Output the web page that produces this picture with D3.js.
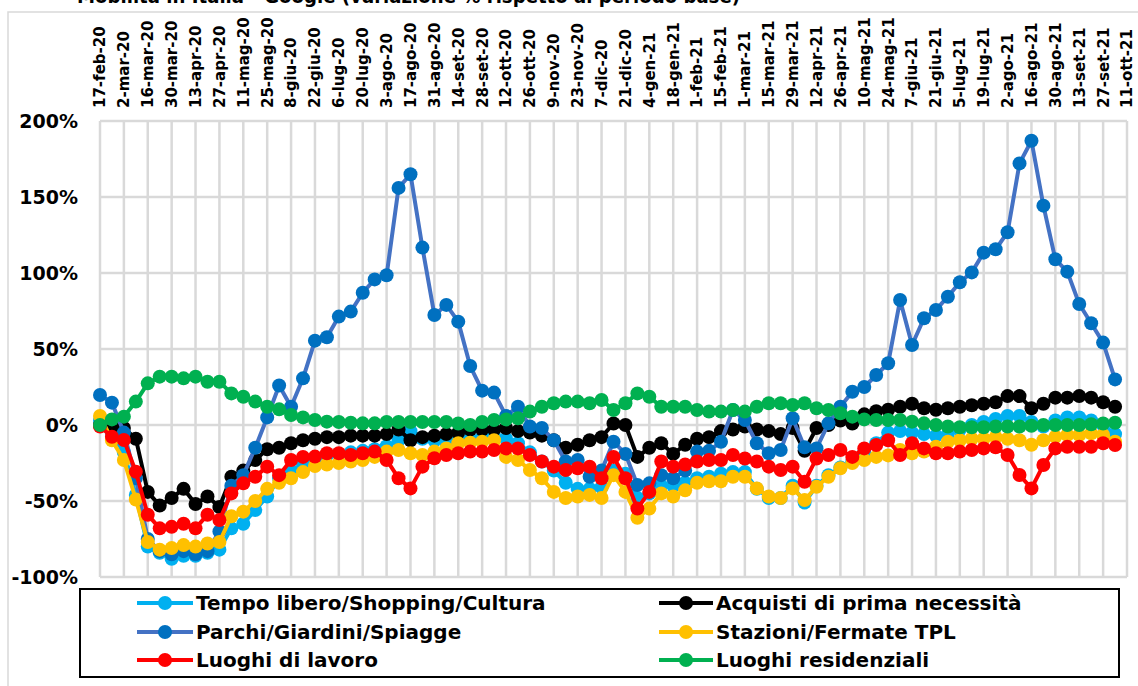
<!DOCTYPE html>
<html><head><meta charset="utf-8">
<script src="https://cdn.jsdelivr.net/npm/d3@7"></script>
<style>
html,body{margin:0;padding:0;background:#fff;overflow:hidden}
text{font-family:"DejaVu Sans",sans-serif;font-weight:bold;fill:#000}
</style></head>
<body>
<svg id="chart" width="1138" height="686"></svg>
<script>
// ---- DATA ----
const startDate = "2020-02-17";
const tickLabels = ["17-feb-20","2-mar-20","16-mar-20","30-mar-20","13-apr-20","27-apr-20","11-mag-20","25-mag-20","8-giu-20","22-giu-20","6-lug-20","20-lug-20","3-ago-20","17-ago-20","31-ago-20","14-set-20","28-set-20","12-ott-20","26-ott-20","9-nov-20","23-nov-20","7-dic-20","21-dic-20","4-gen-21","18-gen-21","1-feb-21","15-feb-21","1-mar-21","15-mar-21","29-mar-21","12-apr-21","26-apr-21","10-mag-21","24-mag-21","7-giu-21","21-giu-21","5-lug-21","19-lug-21","2-ago-21","16-ago-21","30-ago-21","13-set-21","27-set-21","11-ott-21"];
const yTicks = [-100,-50,0,50,100,150,200];
const seriesNames = ["Tempo libero/Shopping/Cultura","Acquisti di prima necessità","Parchi/Giardini/Spiagge","Stazioni/Fermate TPL","Luoghi di lavoro","Luoghi residenziali"];

const tempoLibero = [3,-6,-18,-46,-80,-84,-88,-86,-86,-84,-82,-68,-65,-56,-47,-35,-30,-26,-22,-20,-19,-18,-17,-16,-14,-10,-4,-9,-10,-12,-10,-9,-8,-7,-9,-12,-18,-24,-30,-38,-42,-42,-41,-30,-32,-48,-45,-40,-40,-38,-35,-34,-32,-31,-31,-42,-48,-48,-40,-51,-40,-33,-28,-24,-18,-12,-5,-4,-5,-6,-7,-6,-3,0,2,4,6,6,2,-1,3,5,5,3,0,-6];
const acquisti = [0,-1,-2,-9,-44,-53,-48,-42,-52,-47,-54,-34,-30,-23,-16,-15,-12,-10,-9,-8,-8,-7,-7,-7,-6,-3,-10,-8,-7,-6,-5,-3,-3,-3,-2,-4,-5,-7,-10,-15,-13,-10,-8,1,0,-21,-15,-12,-19,-13,-9,-8,-4,-3,-1,-3,-4,-6,-2,-17,-2,0,3,1,7,9,10,12,14,11,10,11,12,13,14,15,19,19,11,14,18,18,19,18,15,12];
const parchi = [19.7,14.7,-5,-35,-75,-83,-85,-83,-85,-83,-70,-40,-33,-15,5,26,12,30.7,55.5,57.7,71.3,74.6,87,95.8,98.5,156,165,116.7,72.4,79,68,38.8,22.6,21.3,6,12,-1,-2,-10,-24,-23,-34,-30,-11,-19,-39.5,-38.4,-33,-35,-30,-17.5,-17,-11,9.9,3.3,-12,-18.6,-16.4,4.4,-14.7,-15.4,1.1,12,21.9,25,32.9,40.6,82.2,52.6,70.2,75.7,84.4,93.9,100.4,113.4,115.6,126.8,172.1,187,144.3,109,100.9,79.6,66.9,54.2,30];
const stazioni = [6,-10,-23,-49,-77,-82,-81,-79,-80,-78,-77,-60,-57,-50,-42,-38,-35,-31,-27,-26,-25,-24,-23,-21,-17.5,-16.4,-18.6,-19.7,-17.5,-15.4,-12,-11.6,-11,-10,-21,-23,-29.6,-35,-44,-48,-47,-46,-48,-33,-44,-61,-55,-45,-47,-43,-38,-37,-37,-34,-34,-41.7,-47,-48,-41.7,-49.4,-40.6,-34,-28.5,-25,-23,-21,-20,-16.4,-18.6,-17.5,-14.3,-11,-10,-9,-9,-8,-9,-10,-13,-10,-7.7,-6.6,-6.6,-5.5,-6.6,-11];
const lavoro = [-1,-7.7,-9.9,-30.7,-59,-68,-67,-65,-68,-59,-62.5,-45,-38.4,-34,-27.4,-33,-23,-21,-20.8,-18.6,-18.6,-19.7,-18.6,-17.5,-23,-35,-41.7,-27.4,-21.9,-19.7,-18.6,-17.5,-17.5,-16.4,-15.4,-15.4,-19.7,-24,-27.4,-29.6,-28.5,-27.4,-35,-21,-35,-55,-44,-24,-27.4,-26,-24,-23,-23,-19.7,-22,-24,-27.4,-29.6,-27.4,-37.3,-22,-19.7,-16.4,-21,-15.4,-13.2,-10,-19.7,-12,-15.4,-18.6,-18.6,-17.5,-16.4,-15.4,-14.7,-19.7,-32.9,-41.7,-26.3,-15.4,-14.3,-14.3,-14.3,-12,-13.2];
const residenziali = [0,3.7,5.5,15.4,27.4,31.8,31.8,30.7,31.8,28.5,28.5,20.8,18.6,15.4,12,10.3,6.6,5,3.3,2.2,2,1.5,1.1,1.1,2,2,2,2,2,2,1,0,2,3.3,3.7,4.4,8.8,12,14.3,15.4,15.4,14.3,16.4,9.9,14.3,20.8,18.6,12,12,12,9.9,8.8,8.8,9.9,8.8,12,14.3,14.3,13.2,14.3,11,9.9,7.7,5.5,3.7,3.3,3.3,3.3,2.2,1.1,0,-1,-1.5,-1.5,-1.5,-1,-1,-1,-0.5,0,0,0,0,0.5,1,1.5];

const lineColors = ["#00B0F0","#000000","#4472C4","#FFC000","#FF0000","#00B050"];
const markerColors = ["#00B0F0","#000000","#0070C0","#FFC000","#FF0000","#00B050"];
const allSeries = [tempoLibero, acquisti, parchi, stazioni, lavoro, residenziali];

// ---- CHART ----
const svg = d3.select("#chart");
const t0 = d3.timeParse("%Y-%m-%d")(startDate);
const tEnd = d3.timeDay.offset(t0, 7 * 2 * (tickLabels.length - 1));
const x = d3.scaleTime().domain([t0, tEnd]).range([100, 1127]);
const y = d3.scaleLinear().domain([-100, 200]).range([577, 121]);
const tickDates = tickLabels.map((l, i) => d3.timeDay.offset(t0, 14 * i));

// outer frame
svg.append("rect").attr("x", 8).attr("y", 12).attr("width", 1150).attr("height", 700)
  .attr("fill", "none").attr("stroke", "#d9d9d9").attr("stroke-width", 1.5);

// cut-off title
svg.append("text").attr("x", 77).attr("y", 3).attr("font-size", 20)
  .attr("textLength", 663).attr("lengthAdjust", "spacingAndGlyphs")
  .text("Mobilità in Italia - Google (variazione % rispetto al periodo base)");

// gridlines
const grid = svg.append("g");
grid.selectAll("line.h").data(yTicks).join("line")
  .attr("x1", x.range()[0]).attr("x2", x.range()[1])
  .attr("y1", d => y(d)).attr("y2", d => y(d))
  .attr("stroke", "#d9d9d9").attr("stroke-width", 2.5);
grid.selectAll("line.v").data(tickDates).join("line")
  .attr("x1", d => x(d)).attr("x2", d => x(d))
  .attr("y1", y(200)).attr("y2", y(-100))
  .attr("stroke", "#d9d9d9").attr("stroke-width", 2.5);

// y axis labels
svg.append("g").selectAll("text").data(yTicks).join("text")
  .attr("x", 78).attr("y", d => y(d)).attr("dy", "0.36em")
  .attr("text-anchor", "end").attr("font-size", 19)
  .text(d => d + "%");

// x axis labels (rotated)
svg.append("g").selectAll("text").data(tickDates).join("text")
  .attr("transform", d => `translate(${x(d)},108) rotate(-90)`)
  .attr("dy", "0.36em").attr("font-size", 15)
  .text((d, i) => tickLabels[i]);

// series
const plot = svg.append("g");
allSeries.forEach((vals, s) => {
  const pts = vals.map((v, i) => ({ d: d3.timeDay.offset(t0, 7 * i), v }));
  const line = d3.line().x(p => x(p.d)).y(p => y(p.v));
  const g = plot.append("g");
  g.append("path").datum(pts).attr("d", line).attr("fill", "none")
    .attr("stroke", lineColors[s]).attr("stroke-width", 4).attr("stroke-linejoin", "round");
  g.selectAll("circle").data(pts).join("circle")
    .attr("cx", p => x(p.d)).attr("cy", p => y(p.v)).attr("r", 7)
    .attr("fill", markerColors[s]);
});

// legend
const leg = svg.append("g");
leg.append("rect").attr("x", 80).attr("y", 589).attr("width", 1039).attr("height", 88)
  .attr("fill", "#fff").attr("stroke", "#000").attr("stroke-width", 2);
const legRows = [603, 632, 660];
const legCols = [{ l1: 137, l2: 193, c: 165, t: 196 }, { l1: 659, l2: 713, c: 686, t: 716 }];
seriesNames.forEach((name, s) => {
  const col = legCols[s % 2], ry = legRows[Math.floor(s / 2)];
  leg.append("line").attr("x1", col.l1).attr("x2", col.l2).attr("y1", ry).attr("y2", ry)
    .attr("stroke", lineColors[s]).attr("stroke-width", 4);
  leg.append("circle").attr("cx", col.c).attr("cy", ry).attr("r", 7).attr("fill", markerColors[s]);
  leg.append("text").attr("x", col.t).attr("y", ry).attr("dy", "0.36em").attr("font-size", 20).text(name);
});
</script>
</body></html>
